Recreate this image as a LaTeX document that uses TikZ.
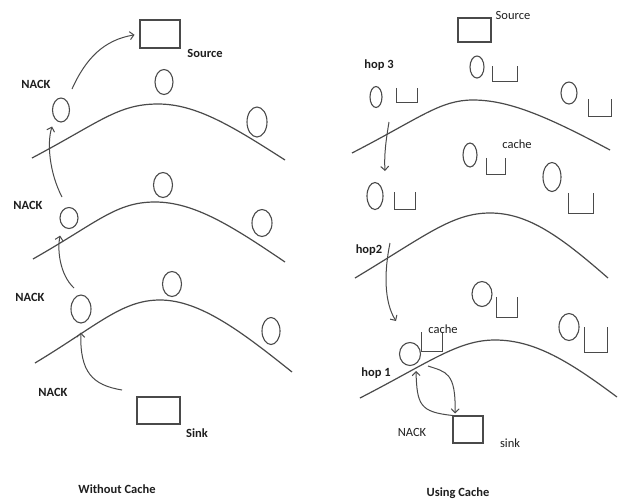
\documentclass[tikz,border=0pt]{standalone}
\usepackage{fontspec}
\setmainfont{Carlito}
\usetikzlibrary{arrows.meta,shapes.geometric}
\definecolor{lc}{HTML}{4A4A4A}
\definecolor{tc}{HTML}{1E1E1E}
\begin{document}
\begin{tikzpicture}[x=1pt,y=-1pt,
  hillline/.style={draw=lc, line width=1.2pt},
  host/.style={ellipse, draw=lc, line width=1.1pt, inner sep=0},
  nbox/.style={draw=lc, line width=1.1pt, inner sep=0},
  bucket/.style={inner sep=0},
  bucketline/.style={draw=lc, line width=1.1pt},
  lbl/.style={font=\fontsize{12.5}{14}\selectfont\bfseries, text=tc, inner sep=0},
  rlbl/.style={font=\fontsize{12.5}{14}\selectfont, text=tc, inner sep=0},
  arr/.style={draw=lc, line width=1pt, -{Straight Barb[length=4pt,width=8pt]}}
]
\useasboundingbox[fill=white] (0,0) rectangle (621,499);

% ---------------- Left: Without Cache ----------------
\draw[hillline] (32,158) .. controls (100,122) and (118,104) .. (158,104) .. controls (196,104) and (232,126) .. (285,160);
\draw[hillline] (33,259) .. controls (98,222) and (116,202) .. (155,202) .. controls (194,202) and (232,226) .. (285,262);
\draw[hillline] (35,363) .. controls (98,325) and (122,300) .. (160,300) .. controls (200,300) and (242,332) .. (292,372);

\node[nbox, minimum width=40pt, minimum height=28pt] (srcL) at (160,34) {};
\node[nbox, minimum width=43pt, minimum height=27pt] (sinkL) at (158.5,410.5) {};

\node[host, minimum width=17pt, minimum height=24pt] (L1) at (61,110) {};
\node[host, minimum width=18pt, minimum height=25pt] (L2) at (164,82) {};
\node[host, minimum width=20pt, minimum height=30pt] (L3) at (257,122) {};
\node[host, minimum width=18pt, minimum height=21pt] (L4) at (69,218) {};
\node[host, minimum width=19pt, minimum height=25pt] (L5) at (163,185) {};
\node[host, minimum width=20pt, minimum height=27pt] (L6) at (262,223) {};
\node[host, minimum width=20pt, minimum height=28pt] (L7) at (81,309) {};
\node[host, minimum width=19pt, minimum height=25pt] (L8) at (172,284) {};
\node[host, minimum width=18pt, minimum height=27pt] (L9) at (271,331) {};

\node[lbl] (tsrcL) at (205,53) {Source};
\node[lbl] (n1) at (36,84) {NACK};
\node[lbl] (n2) at (28,205) {NACK};
\node[lbl] (n3) at (30,297) {NACK};
\node[lbl] (n4) at (53,392) {NACK};
\node[lbl] (tsinkL) at (197,433) {Sink};
\node[lbl] (capL) at (117,489) {Without Cache};

\coordinate (a1s) at (72,89);
\coordinate (a2s) at (62,197);
\coordinate (a3s) at (74,288);
\coordinate (a4s) at (122,390);
\draw[arr, shorten >=5pt] (a1s) .. controls (86,58) and (104,40) .. (srcL.west);
\draw[arr, shorten >=8pt] (a2s) .. controls (49,172) and (47,142) .. (L1.south west);
\draw[arr, shorten >=10pt] (a3s) .. controls (60,275) and (57,250) .. (L4.south west);
\draw[arr, shorten >=9pt] (a4s) .. controls (92,385) and (80,372) .. (L7.south);

% ---------------- Right: Using Cache ----------------
\draw[hillline] (352,153) .. controls (420,118) and (440,100) .. (473,100) .. controls (510,100) and (550,118) .. (610,150);
\draw[hillline] (355,278) .. controls (425,236) and (452,213) .. (490,213) .. controls (528,213) and (560,236) .. (608,278);
\draw[hillline] (360,398) .. controls (430,362) and (458,340) .. (495,340) .. controls (535,340) and (570,362) .. (617,397);

\node[nbox, minimum width=33pt, minimum height=24pt] (srcR) at (474.5,30) {};
\node[nbox, minimum width=30pt, minimum height=27pt] (sinkR) at (468,429.5) {};

\node[host, minimum width=12pt, minimum height=21pt] (R1) at (376,97) {};
\node[host, minimum width=14pt, minimum height=22pt] (R2) at (477,67) {};
\node[host, minimum width=16pt, minimum height=22pt] (R3) at (569,93) {};
\node[host, minimum width=14pt, minimum height=24pt] (R4) at (470,155) {};
\node[host, minimum width=16pt, minimum height=27pt] (R5) at (375,196) {};
\node[host, minimum width=18pt, minimum height=29pt] (R6) at (552,177) {};
\node[host, minimum width=20pt, minimum height=25pt] (R7) at (482,294) {};
\node[host, minimum width=20pt, minimum height=27pt] (R8) at (569,327) {};
\node[host, minimum width=21pt, minimum height=23pt] (R9) at (410,354) {};

\node[bucket, minimum width=20pt, minimum height=14pt] (B1) at (407,95) {};
\node[bucket, minimum width=24pt, minimum height=15pt] (B2) at (505,74) {};
\node[bucket, minimum width=23pt, minimum height=17pt] (B3) at (600,108) {};
\node[bucket, minimum width=19pt, minimum height=16pt] (B4) at (496,166) {};
\node[bucket, minimum width=20pt, minimum height=17pt] (B5) at (405,201) {};
\node[bucket, minimum width=24pt, minimum height=20pt] (B6) at (581,203) {};
\node[bucket, minimum width=21pt, minimum height=20pt] (B7) at (507,307) {};
\node[bucket, minimum width=22pt, minimum height=25pt] (B8) at (596,340) {};
\node[bucket, minimum width=21pt, minimum height=19pt] (B9) at (432,342) {};
\foreach \b in {B1,B2,B3,B4,B5,B6,B7,B8,B9}
  \draw[bucketline] (\b.north west) |- (\b.south east) -- (\b.north east);

\node[rlbl] (tsrcR) at (513,15) {Source};
\node[lbl] (hop3) at (379,65) {hop 3};
\node[rlbl] (cache1) at (517,144) {cache};
\node[lbl] (hop2) at (369,250) {hop2};
\node[rlbl] (cache2) at (443,329) {cache};
\node[lbl] (hop1) at (376,373) {hop 1};
\node[rlbl] (nR) at (412,432) {NACK};
\node[rlbl] (tsinkR) at (510,443) {sink};
\node[lbl] (capR) at (458,493) {Using Cache};

\coordinate (r1s) at (389,122);
\coordinate (r1e) at (385,171);
\coordinate (r2s) at (390,243);
\coordinate (r2e) at (396,321);
\coordinate (r3s) at (428,366);
\coordinate (r4e) at (416,371);
\draw[arr] (r1s) .. controls (386,140) and (384,155) .. (r1e);
\draw[arr] (r2s) .. controls (384,272) and (384,302) .. (r2e);
\draw[arr, shorten >=2pt] (r3s) .. controls (446,372) and (456,372) .. ([xshift=-13pt]sinkR.north);
\draw[arr] (sinkR.north west) .. controls (420,412) and (417,405) .. (r4e);
\end{tikzpicture}
\end{document}
